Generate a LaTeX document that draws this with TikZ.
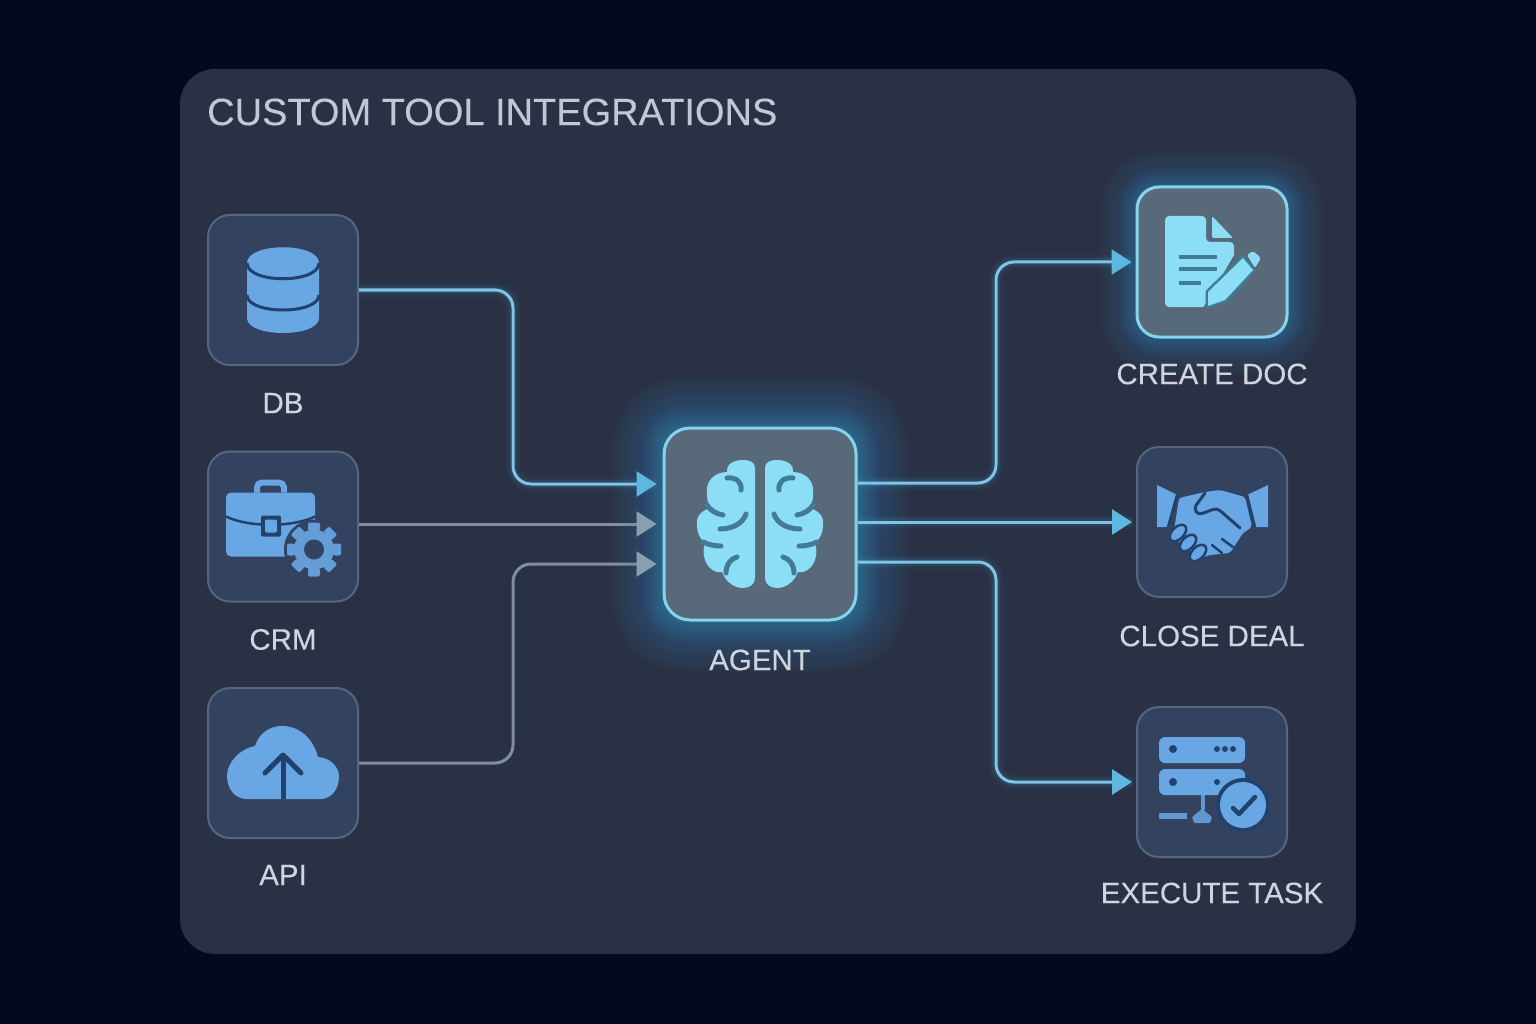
\documentclass[tikz,border=0pt]{standalone}
\usepackage{fontspec}
\setmainfont{Liberation Sans}
\newfontfamily\heavyfont[FakeBold=0.25]{Liberation Sans}
\usetikzlibrary{arrows.meta, calc, backgrounds}
\definecolor{pagebg}{HTML}{030A1F}
\definecolor{panelbg}{HTML}{2A3145}
\definecolor{toolfill}{HTML}{33425E}
\definecolor{toolline}{HTML}{54677F}
\definecolor{hotfill}{HTML}{586A7A}
\definecolor{hotline}{HTML}{86D3EC}
\definecolor{glowblue}{HTML}{38B6E8}
\definecolor{iconblue}{HTML}{69A7E4}
\definecolor{iconcyan}{HTML}{8CDDF6}
\definecolor{icondark}{HTML}{22426E}
\definecolor{hotdark}{HTML}{417C94}
\definecolor{wirecyan}{HTML}{82C4E2}
\definecolor{wiregrey}{HTML}{7F8EA2}
\definecolor{tipcyan}{HTML}{5EB7DE}
\definecolor{tipgrey}{HTML}{8C9FB1}
\definecolor{textgrey}{HTML}{CED5DE}
\tikzstyle{toolbox} = [rectangle, minimum size=150pt, inner sep=0pt, rounded corners=22pt, draw=toolline, line width=2pt, fill=toolfill]
\tikzstyle{hotbox} = [toolbox, draw=hotline, line width=3pt, fill=hotfill]
\tikzstyle{toollabel} = [text=textgrey, font=\heavyfont\fontsize{29.5}{34}\selectfont]
\tikzstyle{arrowon} = [line width=3pt, draw=wirecyan, rounded corners=18pt, -{Triangle[length=20pt,width=25pt,color=tipcyan]}, preaction={draw=glowblue, -, line width=14pt, opacity=.05}, preaction={draw=glowblue, -, line width=8pt, opacity=.10}]
\tikzstyle{arrowoff} = [line width=3pt, draw=wiregrey, rounded corners=18pt, -{Triangle[length=20pt,width=25pt,color=tipgrey]}]
\newcommand{\glowround}[3]{\foreach \g in {2,4,...,#2}{\fill[glowblue, opacity=#3, rounded corners=24pt+\g pt] ($(#1.north west)+(-\g,-\g)$) rectangle ($(#1.south east)+(\g,\g)$);}}
\begin{document}
\begin{tikzpicture}[x=1pt, y=-1pt, node distance=236.5pt]
\useasboundingbox (0,0) rectangle (1536,1024);

% tools on the left
\node (db) [toolbox] at (283,290) {};
\node (crm) [toolbox, below of=db] {};
\node (api) [toolbox, below of=crm] {};
\node (dblabel) [toollabel, below of=db, node distance=113pt] {DB};
\node (crmlabel) [toollabel, below of=crm, node distance=113pt] {CRM};
\node (apilabel) [toollabel, below of=api, node distance=112pt] {API};

% agent
\node (agent) [hotbox, minimum size=192pt, rounded corners=26pt] at (760,524) {};
\node (agentlabel) [toollabel, below of=agent, node distance=136pt] {AGENT};

% tasks on the right
\node (create) [hotbox] at (1212,262) {};
\node (close) [toolbox, below of=create, node distance=260pt] {};
\node (execute) [toolbox, below of=close, node distance=260pt] {};
\node (createlabel) [toollabel, below of=create, node distance=112pt] {CREATE DOC};
\node (closelabel) [toollabel, below of=close, node distance=114pt] {CLOSE DEAL};
\node (executelabel) [toollabel, below of=execute, node distance=111pt] {EXECUTE TASK};

\node (title) [anchor=west, inner sep=0pt, text=textgrey!92!panelbg, font=\heavyfont\fontsize{38}{44}\selectfont] at (207,112) {CUSTOM TOOL INTEGRATIONS};

\begin{scope}[on background layer]
\fill[pagebg] (0,0) rectangle (1536,1024);
\fill[panelbg, rounded corners=35pt] (180,69) rectangle (1356,954);
\glowround{agent}{52}{.014}
\glowround{agent}{20}{.025}
\glowround{create}{36}{.014}
\glowround{create}{16}{.025}
\end{scope}

\coordinate (ina) at ($(agent.west)+(0,-40)$);
\coordinate (inb) at (agent.west);
\coordinate (inc) at ($(agent.west)+(0,40)$);
\coordinate (outa) at ($(agent.east)+(0,-41)$);
\coordinate (outb) at (agent.east |- close.west);
\coordinate (outc) at ($(agent.east)+(0,38)$);
\coordinate (midin) at (513,524);
\coordinate (midout) at (996,524);
\coordinate (elbowa) at (midin |- ina);
\coordinate (elbowc) at (midin |- inc);
\coordinate (elbowd) at (midout |- create.west);
\coordinate (elbowf) at (midout |- execute.west);

\draw [arrowon, shorten >=6pt] (db.east) -| (elbowa) -- (ina);
\draw [arrowoff, shorten >=6pt] (crm.east |- inb) -- (inb);
\draw [arrowoff, shorten >=6pt] (api.east) -| (elbowc) -- (inc);
\draw [arrowon, shorten >=4pt] (outa) -| (elbowd) -- (create.west);
\draw [arrowon, shorten >=4pt] (outb) -- (close.west);
\draw [arrowon, shorten >=4pt] (outc) -| (elbowf) -- (execute.west);

% database
\begin{scope}[shift={(db.center)}]
\fill[iconblue] (-36,-27) .. controls (-36,-48) and (36,-48) .. (36,-27) -- (36,28) .. controls (36,48) and (-36,48) .. (-36,28) -- cycle;
\draw[icondark, line width=3pt] (-36,-27) .. controls (-36,-6) and (36,-6) .. (36,-27);
\draw[icondark, line width=3pt] (-36,5) .. controls (-36,25) and (36,25) .. (36,5);
\end{scope}

% briefcase and gear
\begin{scope}[shift={(crm.center)}]
\draw[iconblue, line width=6pt, rounded corners=5pt] (-26,-34) -- (-26,-44) -- (1,-44) -- (1,-34);
\fill[iconblue, rounded corners=5pt] (-57,-34) rectangle (32,30);
\draw[icondark, line width=2.5pt] (-57,-10) .. controls (-35,1) and (10,1) .. (32,-10);
\fill[icondark, rounded corners=2pt] (-22,-11) rectangle (-2,10);
\fill[iconblue, rounded corners=2pt] (-18,-7) rectangle (-6,6);
\fill[toolfill] (31,23) circle (30pt);
\foreach \a in {0,45,...,315}{
\fill[iconblue!90!toolfill, rotate around={\a:(31,23)}, rounded corners=2pt] (25,-4) rectangle (37,4);
}
\fill[iconblue!90!toolfill] (31,23) circle (20pt);
\fill[toolfill] (31,23) circle (10pt);
\end{scope}

% cloud
\begin{scope}[shift={(api.center)}]
\fill[iconblue] (-36,36) .. controls (-48,36) and (-56,26) .. (-56,13) .. controls (-56,0) and (-44,-14) .. (-28,-17) .. controls (-24,-30) and (-13,-37) .. (-1,-37) .. controls (16,-37) and (30,-25) .. (35,-6) .. controls (48,-5) and (56,4) .. (56,14) .. controls (56,26) and (48,36) .. (38,36) -- cycle;
\draw[icondark, line width=5pt] (0,36) -- (0,-6);
\draw[icondark, line width=5pt, line cap=round, line join=round] (-18,10) -- (0,-8) -- (18,10);
\end{scope}

% brain
\begin{scope}[shift={(agent.center)}]
\foreach \s in {1,-1}{
\begin{scope}[xscale=\s]
\fill[iconcyan] (5,-56) .. controls (5,-62) and (10,-64) .. (17,-64) .. controls (26,-64) and (34,-60) .. (33,-52) .. controls (46,-52) and (55,-42) .. (53,-30) .. controls (53,-24) and (52,-20) .. (49,-16) .. controls (58,-14) and (64,-8) .. (63,0) .. controls (63,9) and (60,15) .. (55,19) .. controls (58,28) and (56,38) .. (50,44) .. controls (47,47) and (42,49) .. (38,48) .. controls (34,58) and (26,64) .. (17,64) .. controls (10,64) and (5,60) .. (5,54) -- cycle;
\draw[hotdark, line width=5pt, line cap=round] (19,-34) .. controls (18,-42) and (24,-47) .. (33,-46);
\draw[hotdark, line width=5pt, line cap=round] (37,-9) .. controls (44,-10) and (50,-14) .. (53,-19);
\draw[hotdark, line width=5pt, line cap=round] (14,-10) .. controls (17,-1) and (27,5) .. (40,5);
\draw[hotdark, line width=5pt, line cap=round] (39,22) .. controls (45,22) and (51,21) .. (57,18);
\draw[hotdark, line width=5pt, line cap=round] (23,33) .. controls (30,35) and (34,41) .. (34,49);
\end{scope}
}
\end{scope}

% document and pencil
\begin{scope}[shift={(create.center)}]
\fill[iconcyan, rounded corners=4pt] (-47,-46) -- (-6,-46) -- (-6,-20) -- (22,-20) -- (22,45) -- (-47,45) -- cycle;
\fill[iconcyan, rounded corners=2pt] (0,-46) -- (21,-24) -- (0,-24) -- cycle;
\draw[hotdark, line width=3.5pt] (-33,-5) -- (5,-5);
\draw[hotdark, line width=3.5pt] (-33,7) -- (5,7);
\draw[hotdark, line width=3.5pt] (-33,21) -- (-11,21);
\fill[hotfill] (24,-10) -- (24,46) -- (-9,46) -- cycle;
\draw[hotdark, line width=5pt, line join=round] (-4,44) -- (-4,30) -- (31,-4) -- (41,8) -- (13,38) -- cycle;
\fill[iconcyan] (-4,44) -- (-4,30) -- (31,-4) -- (41,8) -- (13,38) -- cycle;
\fill[iconcyan, rounded corners=2pt] (35,-7) -- (41,-11) -- (49,-4) -- (43,6) -- cycle;
\end{scope}

% handshake
\begin{scope}[shift={(close.center)}]
\fill[iconblue] (-55,-37) -- (-35,-27) -- (-44,5) -- (-55,5) -- cycle;
\fill[iconblue] (56,-37) -- (35,-27) -- (43,5) -- (56,5) -- cycle;
\fill[iconblue, rounded corners=3pt] (-33,-24) -- (-7,-30) -- (8,-32) -- (33,-25) -- (40,5) -- (31,11) -- (18,31) -- (-2,33) -- (-12,36) -- (-39,15) -- cycle;
\draw[icondark, line width=2.5pt] (-35,-27) -- (-44,5);
\draw[icondark, line width=2.5pt] (35,-27) -- (43,5);
\draw[icondark, line width=3pt, rounded corners=4pt, line cap=round] (-7,-29) -- (-18,-14) -- (-14,-7) -- (5,-14) -- (28,6);
\foreach \fx/\fy in {-34/11,-24/21,-14/31}{
\draw[icondark, fill=iconblue, line width=2.5pt, rotate around={45:(\fx,\fy)}] (\fx,\fy) ellipse (10pt and 6pt);
}
\draw[icondark, line width=2.5pt, line cap=round] (10,17) -- (21,25);
\draw[icondark, line width=2.5pt, line cap=round] (0,23) -- (10,31);
\end{scope}

% server with check mark
\begin{scope}[shift={(execute.center)}]
\fill[iconblue, rounded corners=6pt] (-53,-45) rectangle (33,-19);
\fill[iconblue, rounded corners=6pt] (-53,-13) rectangle (33,13);
\foreach \dx in {5,13,21}{
\fill[icondark] (\dx,-33) circle (3pt);
}
\fill[icondark] (-39,-33) circle (4pt);
\fill[icondark] (-39,0) circle (4pt);
\fill[icondark] (5,0) circle (3pt);
\draw[iconblue!85!toolfill, line width=4pt] (-9,13) -- (-9,28);
\fill[iconblue!85!toolfill, rounded corners=1pt] (-20,35) -- (-10,27) -- (0,35) -- (-2,41) -- (-18,41) -- cycle;
\fill[iconblue!85!toolfill] (-53,31) rectangle (-25,37);
\fill[icondark] (31,23) circle (27pt);
\fill[iconblue] (31,23) circle (23pt);
\draw[icondark, line width=4.5pt, line cap=round, line join=round] (21,26) -- (27,32) -- (43,15);
\end{scope}
\end{tikzpicture}
\end{document}
